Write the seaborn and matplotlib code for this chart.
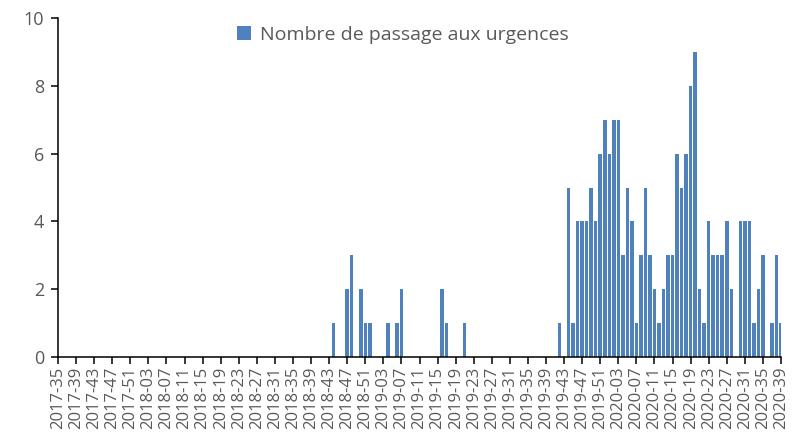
import pandas as pd
import matplotlib
matplotlib.use("Agg")
import matplotlib.pyplot as plt
import seaborn as sns

# semaines ISO 2017-35 -> 2020-39
years = [2017, 2018, 2019, 2020]
first_week = {2017: 35, 2018: 1, 2019: 1, 2020: 1}
last_week = {2017: 52, 2018: 52, 2019: 52, 2020: 39}
weeks = []
for y in years:
    for w in range(first_week[y], last_week[y] + 1):
        weeks.append(f"{y}-{w:02d}")

passages = [
    0, 0, 0, 0, 0, 0, 0, 0, 0, 0, 0, 0, 0, 0, 0, 0, 0, 0, 0, 0,
    0, 0, 0, 0, 0, 0, 0, 0, 0, 0, 0, 0, 0, 0, 0, 0, 0, 0, 0, 0,
    0, 0, 0, 0, 0, 0, 0, 0, 0, 0, 0, 0, 0, 0, 0, 0, 0, 0, 0, 0,
    0, 1, 0, 0, 2, 3, 0, 2, 1, 1, 0, 0, 0, 1, 0, 1, 2, 0, 0, 0,
    0, 0, 0, 0, 0, 2, 1, 0, 0, 0, 1, 0, 0, 0, 0, 0, 0, 0, 0, 0,
    0, 0, 0, 0, 0, 0, 0, 0, 0, 0, 0, 1, 0, 5, 1, 4, 4, 4, 5, 4,
    6, 7, 6, 7, 7, 3, 5, 4, 1, 3, 5, 3, 2, 1, 2, 3, 3, 6, 5, 6,
    8, 9, 2, 1, 4, 3, 3, 3, 4, 2, 0, 4, 4, 4, 1, 2, 3, 0, 1, 3, 1,
]
tick_labels = weeks[::4]

df = pd.DataFrame({"semaine": weeks, "passages": passages})

sns.set_style("white")
plt.rcParams["font.family"] = ["Open Sans", "DejaVu Sans"]

fig, ax = plt.subplots(figsize=(8.02, 4.41), dpi=100)
fig.subplots_adjust(left=58 / 802, right=781 / 802, top=1 - 18 / 441, bottom=1 - 357 / 441)

sns.barplot(data=df, x="semaine", y="passages", color="#4F81BD", saturation=1,
            width=0.78, linewidth=0, label="Nombre de passage aux urgences", ax=ax)

ax.set_xlim(0, len(weeks) - 1)
ax.set_ylim(0, 10)
ax.set_yticks(range(0, 11, 2))
ax.set_xticks(range(0, len(weeks), 4))
ax.set_xticklabels(tick_labels, rotation=90, fontsize=12, color="#595959")
ax.tick_params(axis="y", labelsize=13, labelcolor="#595959", pad=5)
ax.tick_params(axis="x", pad=2)
ax.tick_params(axis="both", direction="out", length=5, width=1.1, color="black",
               bottom=True, left=True)
ax.set_xlabel("")
ax.set_ylabel("")

for s in ["top", "right"]:
    ax.spines[s].set_visible(False)
for s in ["left", "bottom"]:
    ax.spines[s].set_color("black")
    ax.spines[s].set_linewidth(1.1)

leg = ax.legend(loc="center", bbox_to_anchor=(0.477, 0.95), frameon=False,
                fontsize=14, handlelength=0.7, handleheight=0.7, handletextpad=0.45)
for t in leg.get_texts():
    t.set_color("#595959")

plt.savefig("out.png", dpi=100)
